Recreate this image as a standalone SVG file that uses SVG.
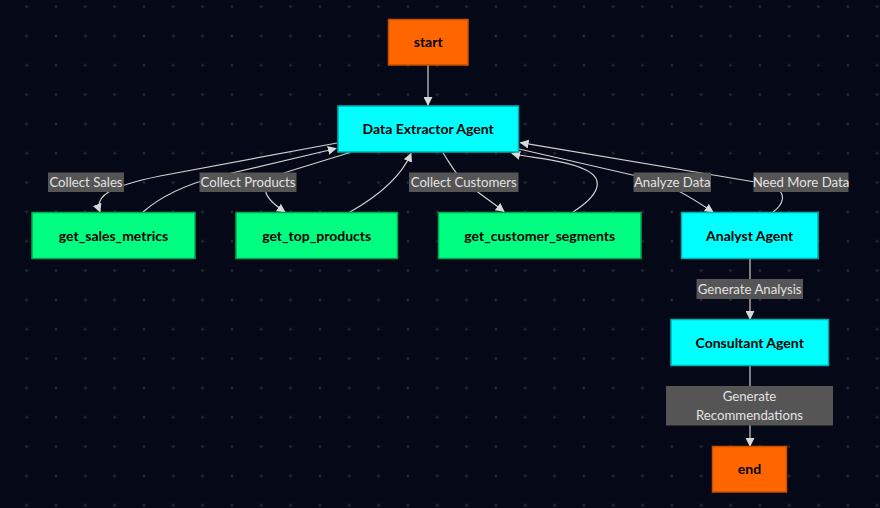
<svg xmlns="http://www.w3.org/2000/svg" width="880" height="508" viewBox="0 0 880 508">
  <defs>
    <pattern id="dots" x="12" y="-8" width="29.33" height="29.33" patternUnits="userSpaceOnUse">
      <circle cx="14.67" cy="14.67" r="1.4" fill="#272b38"/>
    </pattern>
    <marker id="arrow" viewBox="0 0 10 10" refX="9" refY="5" markerWidth="9" markerHeight="9" markerUnits="userSpaceOnUse" orient="auto">
      <path d="M0,0 L10,5 L0,10 z" fill="#d8d8d8"/>
    </marker>
    <style>
      .edge { fill: none; stroke: #cfcfcf; stroke-width: 1.2; marker-end: url(#arrow); }
      .terminal rect { fill: #ff6600; stroke: #c85000; stroke-width: 1.5; }
      .agent rect { fill: #00ffff; stroke: #00b0b0; stroke-width: 1.5; }
      .tool rect { fill: #00ff80; stroke: #00a855; stroke-width: 1.5; }
      .node text { font-family: Lato, "Liberation Sans", sans-serif; font-weight: bold; font-size: 14px; fill: #000; text-anchor: middle; dominant-baseline: central; }
      .label rect { fill: #555555; }
      .label text { font-family: Lato, "Liberation Sans", sans-serif; font-size: 13.2px; fill: #e2e2e2; text-anchor: middle; dominant-baseline: central; }
    </style>
  </defs>

  <rect width="880" height="508" fill="#050816"/>
  <rect width="880" height="508" fill="url(#dots)"/>

  <!-- connectors -->
  <g id="edges">
    <path class="edge" d="M428,65 L428,105"/>
    <path class="edge" d="M337,143 L160,176 C110,186 94,196 100,212"/>
    <path class="edge" d="M143,212 C160,197 185,185 215,177 L336,148.5"/>
    <path class="edge" d="M350,152.5 L290,171 C258,181 258,194 285,212"/>
    <path class="edge" d="M350,212 C380,195 402,175 411,153.5"/>
    <path class="edge" d="M443,153 C450,163 456,176 466,183 C480,194 493,203 504,211.5"/>
    <path class="edge" d="M573,212 C598,196 606,180 586,170 C566,160 532,158 512,153.5"/>
    <path class="edge" d="M519,149 L650,179 C670,184 695,200 713,212"/>
    <path class="edge" d="M773,212 C784,204 786,194 776,188 C768,184 762,183 752,181.5 L520.5,142.7"/>
    <path class="edge" d="M750,259 L750,319"/>
    <path class="edge" d="M750,366 L750,446"/>
  </g>

  <!-- edge labels -->
  <g id="edge-labels">
    <g class="label"><rect x="48" y="172.5" width="76" height="19.5"/><text x="86" y="182">Collect Sales</text></g>
    <g class="label"><rect x="199.5" y="172.5" width="97" height="19.5"/><text x="248" y="182">Collect Products</text></g>
    <g class="label"><rect x="409" y="172.5" width="109.5" height="19.5"/><text x="463.7" y="182">Collect Customers</text></g>
    <g class="label"><rect x="633.5" y="172.5" width="77.5" height="19.5"/><text x="672.2" y="182">Analyze Data</text></g>
    <g class="label"><rect x="753.5" y="172.5" width="95" height="19.5"/><text x="801" y="182">Need More Data</text></g>
    <g class="label"><rect x="696.5" y="279" width="106.5" height="20"/><text x="749.7" y="288.7">Generate Analysis</text></g>
    <g class="label"><rect x="666" y="386" width="167" height="39.5"/><text x="749.5" y="395.7">Generate</text><text x="749.5" y="414.7">Recommendations</text></g>
  </g>

  <!-- nodes -->
  <g id="start" class="node terminal"><rect x="388.5" y="19.5" width="79.5" height="45.5"/><text x="428.2" y="41.7">start</text></g>
  <g id="data_extractor" class="node agent"><rect x="338" y="106" width="180.5" height="46"/><text x="428.2" y="128.5">Data Extractor Agent</text></g>
  <g id="get_sales_metrics" class="node tool"><rect x="32" y="212.5" width="163" height="46"/><text x="113.5" y="235">get_sales_metrics</text></g>
  <g id="get_top_products" class="node tool"><rect x="236" y="212.5" width="161.5" height="46"/><text x="316.7" y="235">get_top_products</text></g>
  <g id="get_customer_segments" class="node tool"><rect x="438.5" y="212.5" width="202.5" height="46"/><text x="539.7" y="235">get_customer_segments</text></g>
  <g id="analyst" class="node agent"><rect x="681.5" y="212.5" width="136.5" height="46"/><text x="749.7" y="235">Analyst Agent</text></g>
  <g id="consultant" class="node agent"><rect x="671" y="319.5" width="157.5" height="46"/><text x="749.7" y="342">Consultant Agent</text></g>
  <g id="end" class="node terminal"><rect x="712.5" y="446.5" width="74" height="45.5"/><text x="749.5" y="468.7">end</text></g>
</svg>
